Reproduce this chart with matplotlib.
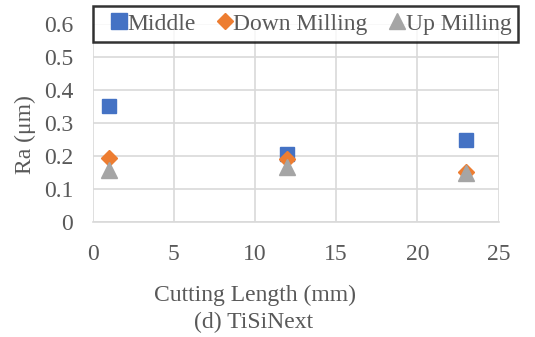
import matplotlib.pyplot as plt

# Surface roughness vs cutting length
length_mm = [1, 12, 23]
ra_middle = [0.352, 0.205, 0.25]
ra_down = [0.195, 0.19, 0.152]
ra_up = [0.158, 0.168, 0.15]

plt.rcParams['font.family'] = ['Liberation Serif', 'DejaVu Serif']
txt = '#595959'

fig = plt.figure(figsize=(5.35, 3.37), dpi=100)
ax = fig.add_axes([92.5 / 535, 1 - 222 / 337, 406 / 535, 198 / 337])

ax.plot(length_mm, ra_middle, 's', color='#4472c4', markersize=10.5, label='Middle', zorder=3)
ax.plot(length_mm, ra_down, 'D', color='#ed7d31', markersize=8, label='Down Milling', zorder=4)
ax.plot(length_mm, ra_up, '^', color='#a5a5a5', markersize=11, label='Up Milling', zorder=5)

ax.set_xlim(0, 25)
ax.set_ylim(0, 0.6)
ax.set_xticks([0, 5, 10, 15, 20, 25])
ax.set_yticks([0, 0.1, 0.2, 0.3, 0.4, 0.5, 0.6])
ax.set_yticklabels(['0', '0.1', '0.2', '0.3', '0.4', '0.5', '0.6'])
ax.grid(True, color='#d9d9d9', linewidth=1.2)
ax.set_axisbelow(True)
for side in ['top', 'right', 'left']:
    ax.spines[side].set_visible(False)
ax.spines['bottom'].set_color('#d9d9d9')
ax.spines['bottom'].set_linewidth(1.2)
ax.tick_params(length=0, labelsize=17, colors=txt)
ax.tick_params(axis='x', pad=16)
ax.tick_params(axis='y', pad=14)

fig.text(25 / 535, 1 - 135 / 337, 'Ra (μm)', rotation=90, ha='center', va='center',
         fontsize=17, color=txt)
fig.text(255 / 535, 1 - 295 / 337, 'Cutting Length (mm)', ha='center', va='center',
         fontsize=17, color=txt)
fig.text(254 / 535, 1 - 322 / 337, '(d) TiSiNext', ha='center', va='center',
         fontsize=17, color=txt)

leg = fig.legend(loc='upper left', bbox_to_anchor=(93 / 535, 1 - 6 / 337), ncol=3, fontsize=17,
                 frameon=True, fancybox=False, handletextpad=-0.45, columnspacing=0.45,
                 borderpad=0.3, borderaxespad=0, handlelength=1.6, markerscale=1.08)
leg.get_frame().set_edgecolor('black')
leg.get_frame().set_linewidth(1.8)
for t in leg.get_texts():
    t.set_color(txt)

fig.savefig('out.png', dpi=100)
